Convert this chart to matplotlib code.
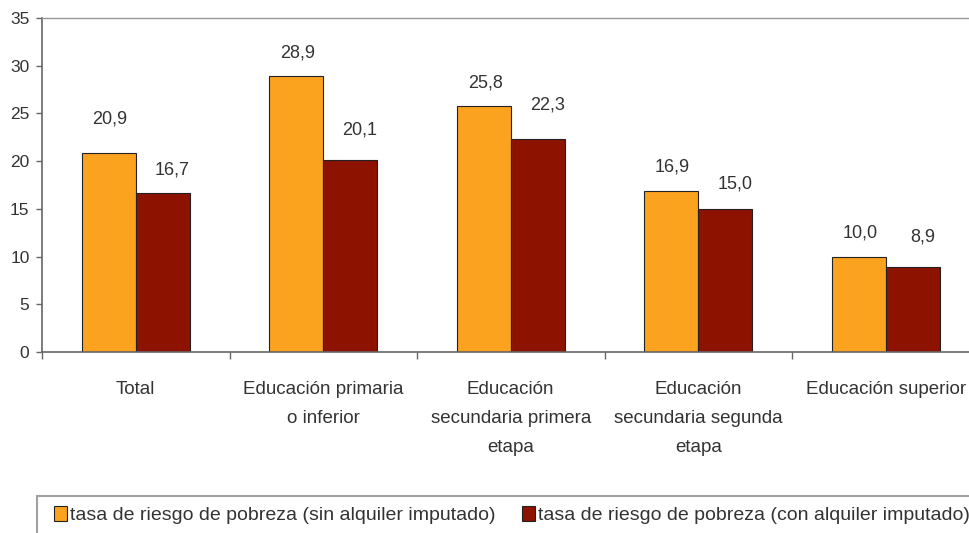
import matplotlib
matplotlib.use("Agg")
import matplotlib.pyplot as plt
from matplotlib.patches import Rectangle
import numpy as np

# Tasa de riesgo de pobreza por nivel de formación
categorias = ["Total", "Educación primaria\no inferior",
              "Educación\nsecundaria primera\netapa",
              "Educación\nsecundaria segunda\netapa",
              "Educación superior"]
sin_alquiler = [20.9, 28.9, 25.8, 16.9, 10.0]
con_alquiler = [16.7, 20.1, 22.3, 15.0, 8.9]
series_nombres = ["tasa de riesgo de pobreza (sin alquiler imputado)",
                  "tasa de riesgo de pobreza (con alquiler imputado)"]
yticks = [0, 5, 10, 15, 20, 25, 30, 35]

# separación vertical de las etiquetas sobre cada barra (puntos)
sep_sin = [24, 16.5, 16.5, 17, 17]
sep_con = [16, 21.5, 24.5, 18, 21.5]

FONT = ["Liberation Sans", "DejaVu Sans"]
TXT = "#333333"
NARANJA = "#FBA21F"
GRANATE = "#8E1200"
W, H = 969, 533

fig = plt.figure(figsize=(W / 100, H / 100), dpi=100)
ax = fig.add_axes([42 / W, 181 / H, 937.5 / W, 334 / H])

x = np.arange(len(categorias))
w = 0.288
b1 = ax.bar(x - w / 2, sin_alquiler, w, color=NARANJA, edgecolor="#222222", linewidth=0.8,
            label=series_nombres[0])
b2 = ax.bar(x + w / 2, con_alquiler, w, color=GRANATE, edgecolor="#222222", linewidth=0.8,
            label=series_nombres[1])

for bars, vals, seps, dx in ((b1, sin_alquiler, sep_sin, 1), (b2, con_alquiler, sep_con, 7)):
    for r, v, s in zip(bars, vals, seps):
        ax.annotate(f"{v:.1f}".replace(".", ","),
                    (r.get_x() + r.get_width() / 2, v),
                    xytext=(dx, s), textcoords="offset points",
                    ha="center", va="center", fontsize=13, color=TXT, family=FONT)

ax.set_xlim(-0.5, len(categorias) - 0.5)
ax.set_ylim(0, 35)
ax.set_yticks(yticks)
ax.set_yticklabels([str(t) for t in yticks], fontsize=12.5, color=TXT, family=FONT)
ax.set_xticks(x)
ax.set_xticklabels(categorias, fontsize=13.5, color=TXT, family=FONT)
ax.tick_params(axis="x", length=0, pad=21)
ax.set_xticks(np.arange(len(categorias) + 1) - 0.5, minor=True)
ax.tick_params(axis="x", which="minor", length=5, color="#666666", width=1)
ax.tick_params(axis="y", length=4, color="#666666", width=1, pad=5)
for lbl in ax.get_xticklabels():
    lbl.set_linespacing(1.92)

for side in ("left", "bottom"):
    ax.spines[side].set_color("#666666")
    ax.spines[side].set_linewidth(1.2)
ax.spines["top"].set_color("#999999")
ax.spines["top"].set_linewidth(1.0)
ax.spines["right"].set_visible(False)

# recuadro de la leyenda (continúa fuera del lienzo por la derecha y por abajo)
fig.add_artist(Rectangle((37 / W, (H - 496 - 100) / H), 1000 / W, 100 / H,
                         transform=fig.transFigure, fill=False,
                         edgecolor="#a0a0a0", linewidth=1.5))
leg = fig.legend(handles=[b1, b2], loc="center left",
                 bbox_to_anchor=(54 / W, 1 - 515 / H), ncol=2,
                 prop={"family": FONT, "size": 14}, frameon=False,
                 handlelength=0.68, handleheight=0.8,
                 handletextpad=0.15, columnspacing=1.35, borderpad=0,
                 borderaxespad=0)
for t in leg.get_texts():
    t.set_color(TXT)

fig.savefig("out.png", dpi=100)
